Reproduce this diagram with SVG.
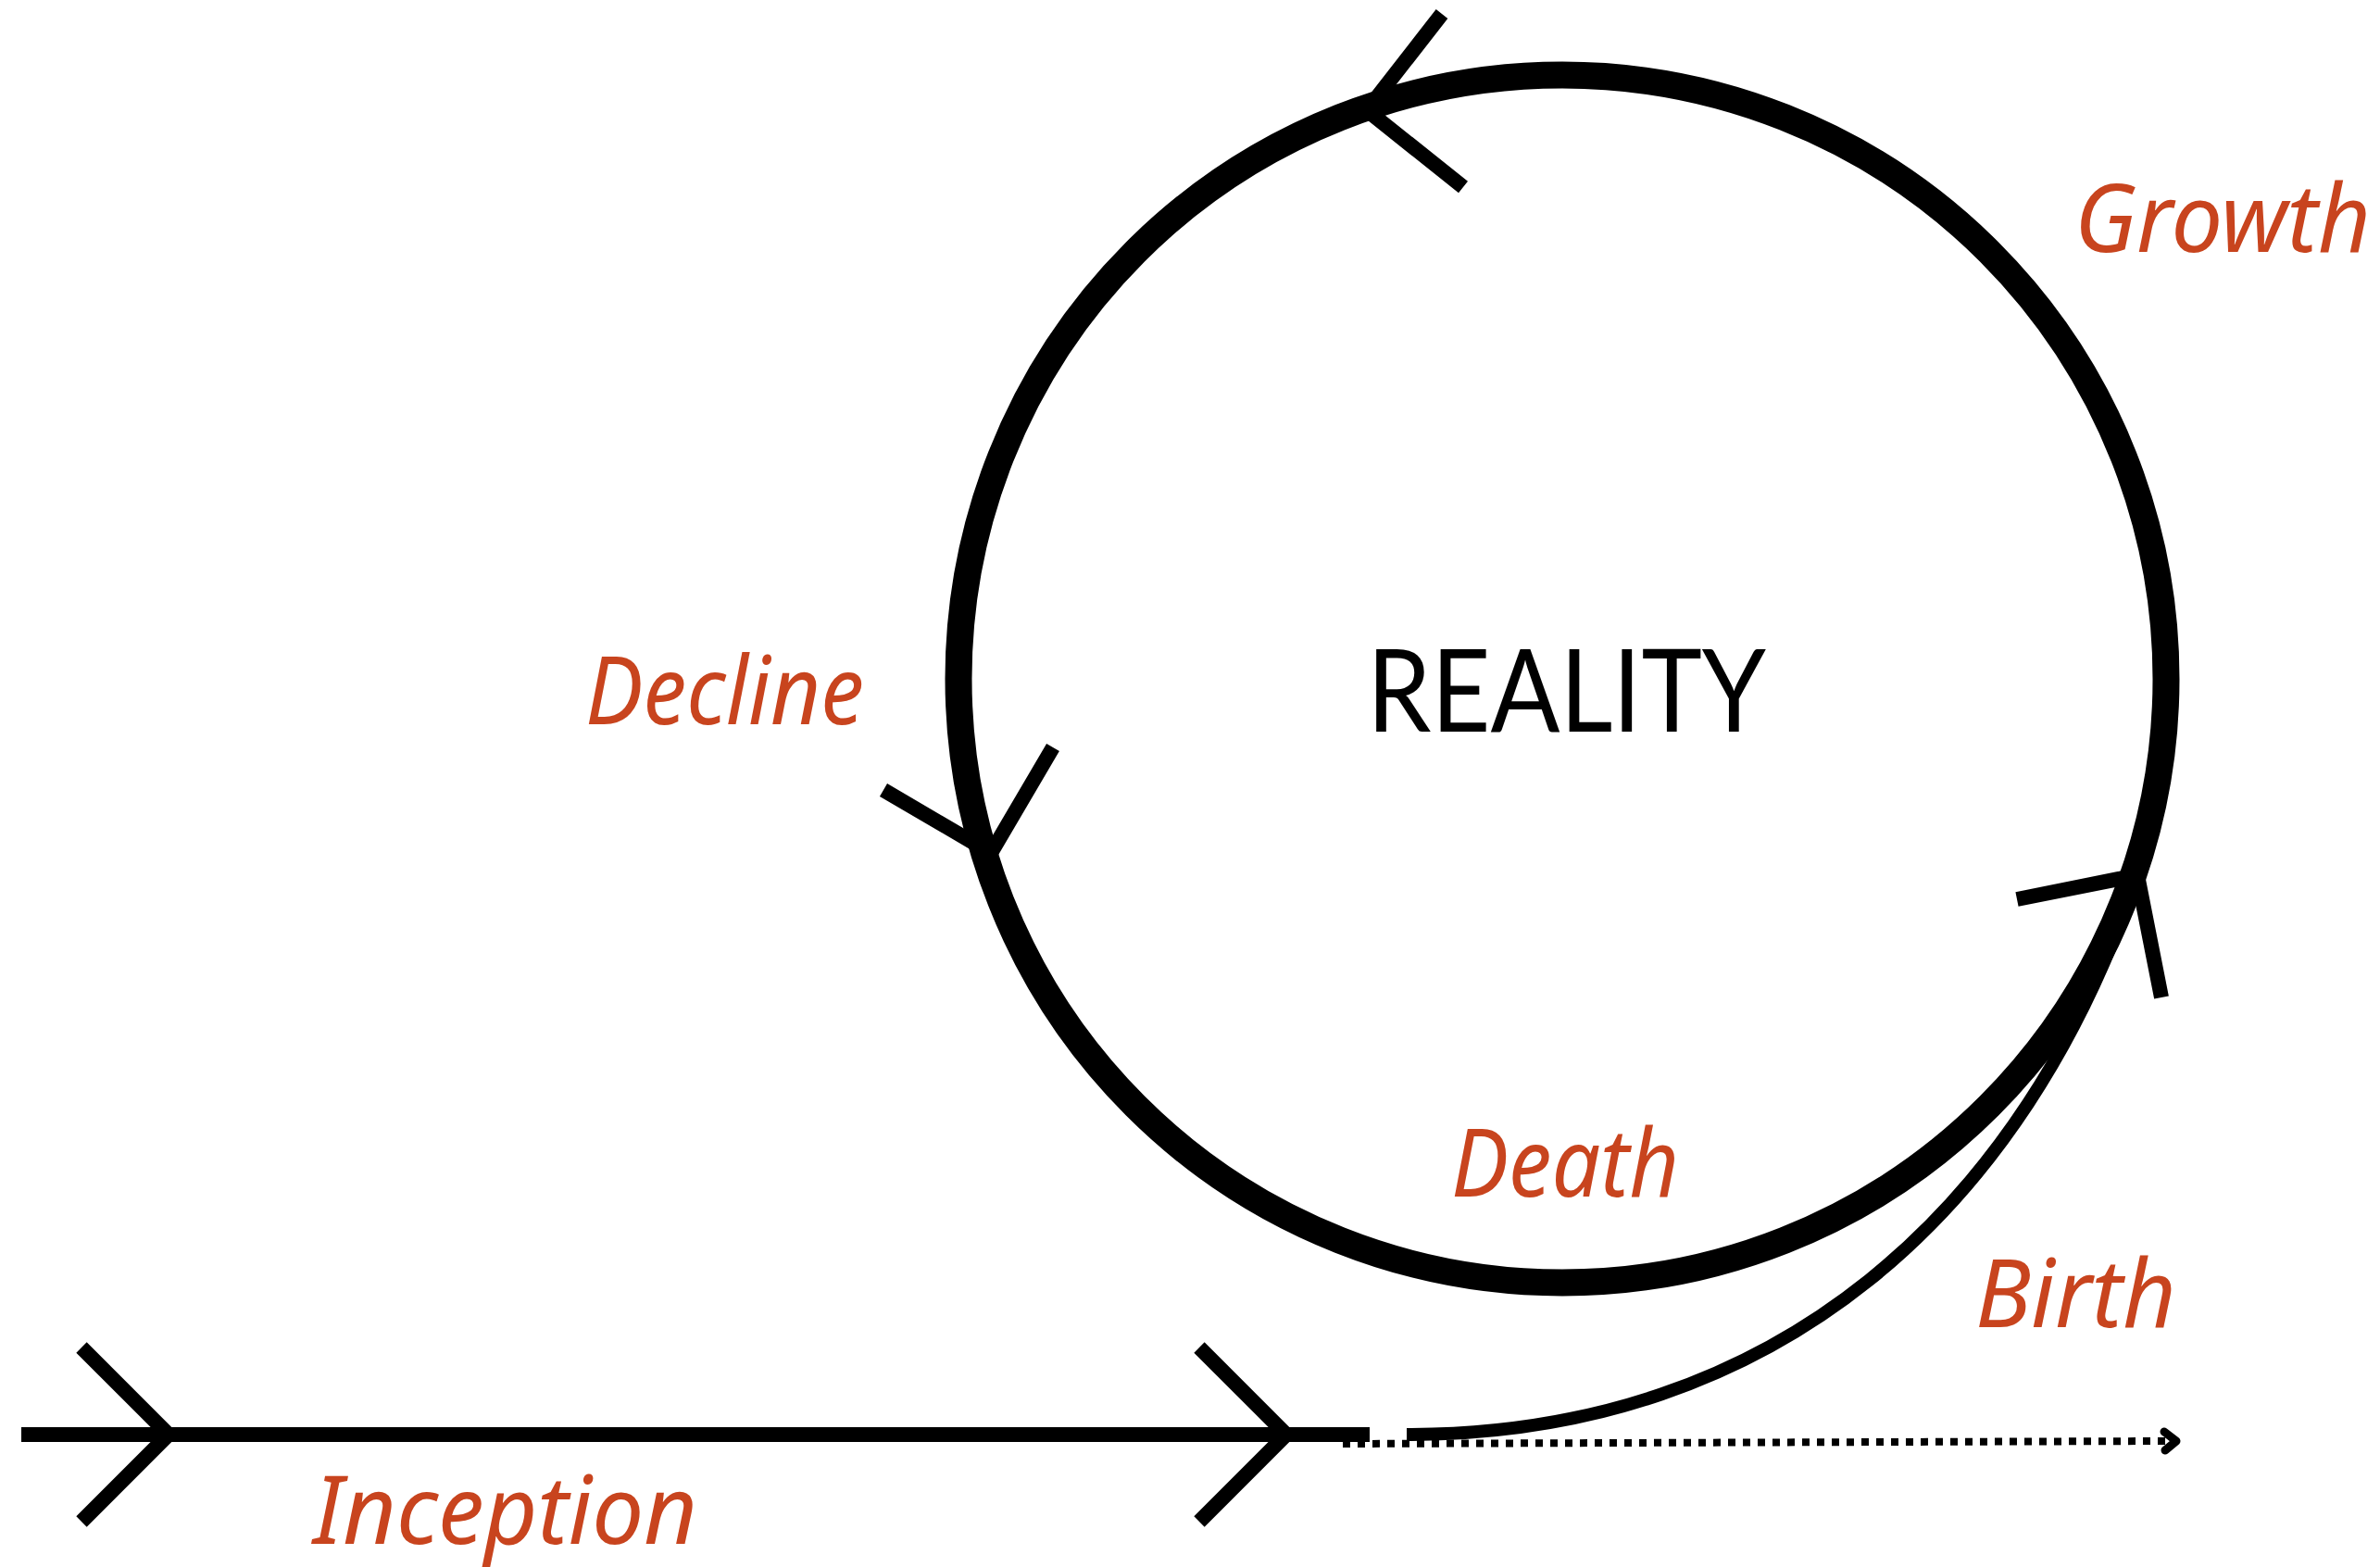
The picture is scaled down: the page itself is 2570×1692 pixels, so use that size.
<svg xmlns="http://www.w3.org/2000/svg" width="2570" height="1692" viewBox="0 0 2570 1692">
<style>
.thick{fill:none;stroke:#000;stroke-width:29}
.line{fill:none;stroke:#000;stroke-width:16}
.chev{fill:none;stroke:#000;stroke-width:16;stroke-linejoin:miter;stroke-linecap:butt}
.thin{fill:none;stroke:#000;stroke-width:14}
.dot{fill:none;stroke:#000;stroke-width:8;stroke-dasharray:8 8}
.head{fill:none;stroke:#000;stroke-width:9;stroke-linecap:round;stroke-linejoin:round}
.hand{font-family:"Noto Sans","DejaVu Sans",sans-serif;font-style:italic;font-size:102px;fill:#C8441E}
.title{font-family:Lato,"Liberation Sans",sans-serif;font-size:125px;fill:#000}
</style>
<rect width="2570" height="1692" fill="#fff"/>
<g id="reality">
<circle class="thick" cx="1687" cy="733" r="652"/>
<text class="title" x="1476" y="790" textLength="431" lengthAdjust="spacingAndGlyphs">REALITY</text>
</g>
<g id="connectors">
<path class="line" d="M23,1549 L1479,1549"/>
<path class="chev" d="M88,1455 L182,1549 L88,1643"/>
<path class="chev" d="M1295,1455 L1389,1549 L1295,1643"/>
<path class="thin" d="M1519,1549 C1919,1549 2187,1306 2308,945"/>
<path class="dot" d="M1450,1559 L2338,1556"/>
<path class="head" d="M2337,1546 L2350,1556 L2338,1566"/>
<path class="chev" d="M1557,15 L1476,119 L1580,202"/>
<path class="chev" d="M954,853 L1070,921 L1137,807"/>
<path class="chev" d="M2178,971 L2308,945 L2334,1077"/>
</g>
<g id="label-growth"><text class="hand" x="2240" y="272" textLength="320" lengthAdjust="spacingAndGlyphs">Growth</text></g>
<g id="label-decline"><text class="hand" x="632" y="782" textLength="301" lengthAdjust="spacingAndGlyphs">Decline</text></g>
<g id="label-death"><text class="hand" x="1567" y="1292" textLength="246" lengthAdjust="spacingAndGlyphs">Death</text></g>
<g id="label-birth"><text class="hand" x="2133" y="1433" textLength="217" lengthAdjust="spacingAndGlyphs">Birth</text></g>
<g id="label-inception"><text class="hand" x="338" y="1667" textLength="415" lengthAdjust="spacingAndGlyphs">Inception</text></g>
</svg>
